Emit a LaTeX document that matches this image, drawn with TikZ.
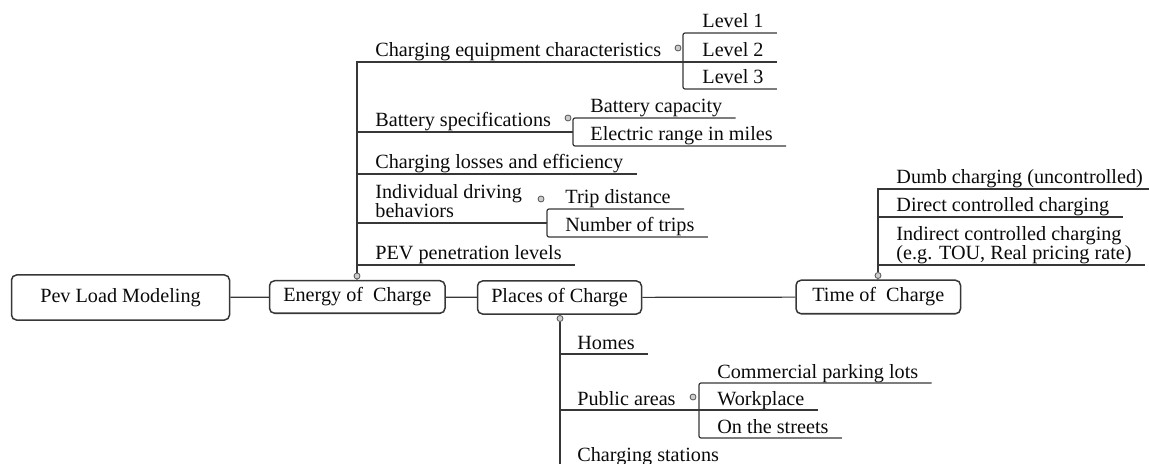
\documentclass[tikz,border=0pt]{standalone}
\usepackage{fontspec}
\setmainfont{Liberation Serif}
\usepackage{xcolor}
\definecolor{InkBlack}{RGB}{10,10,10}
\definecolor{LineGray}{RGB}{55,55,55}
\definecolor{KnobGray}{RGB}{205,205,205}
\usepackage{tikz}

\begin{document}
\begin{tikzpicture}[
    x=0.5pt, y=-0.5pt,
    font=\fontsize{10.1}{9.6}\selectfont, text=InkBlack,
    mainbox/.style={
        draw=LineGray, line width=0.75pt, rounded corners=2.5pt,
        inner sep=0pt, align=center
    },
    topic/.style={
        anchor=south west, inner sep=0pt, align=left,
        execute at end node={\rule[-2.3pt]{0pt}{1pt}}
    },
    link/.style={
        draw=LineGray, line width=0.6pt
    },
    bracket/.style={
        link, rounded corners=1pt
    },
    knob/.style={
        circle, draw=LineGray!85, fill=KnobGray, line width=0.4pt,
        inner sep=0pt, minimum size=3pt
    }
]
\useasboundingbox (0,0) rectangle (1149,464);
\clip (0,0) rectangle (1149,464);

% ====== BLOCS PRINCIPAUX ======
\node[mainbox, minimum width=109pt, minimum height=22.5pt]   (pev)    at (120.5,297.5) {Pev Load Modeling};
\node[mainbox, minimum width=87.75pt, minimum height=16.25pt] (energy) at (357.25,297)  {Energy of~~Charge};
\node[mainbox, minimum width=82pt, minimum height=16.5pt]     (places) at (559.5,297.5) {Places of Charge};
\node[mainbox, minimum width=82.25pt, minimum height=16.75pt] (time)   at (878.25,297)  {Time of~~Charge};

\draw[link] (pev) -- (energy);
\draw[link] (energy) -- (places);
\draw[link] (places) -- (time);

% ====== POIGNEES ======
\node[knob] (eDot)   at (357,276)   {};
\node[knob] (pDot)   at (560,318.5) {};
\node[knob] (tDot)   at (878,275.5) {};
\node[knob] (eqpDot) at (678,48)    {};
\node[knob] (batDot) at (568,118)   {};
\node[knob] (drvDot) at (541,199)   {};
\node[knob] (pubDot) at (693,397)   {};

% ====== ENERGY OF CHARGE ======
\node[topic] (eqp)  at (375,62)  {Charging equipment characteristics};
\node[topic] (lvA)  at (702,33)  {Level 1};
\node[topic] (lvB)  at (702,62)  {Level 2};
\node[topic] (lvC)  at (702,89)  {Level 3};
\node[topic] (bat)  at (375,132) {Battery specifications};
\node[topic] (capA) at (590,118) {Battery capacity};
\node[topic] (capB) at (590,146) {Electric range in miles};
\node[topic] (loss) at (375,174) {Charging losses and efficiency};
\node[topic] (drv)  at (375,223) {Individual driving\\behaviors};
\node[topic] (trpA) at (565,209) {Trip distance};
\node[topic] (trpB) at (565,237) {Number of trips};
\node[topic] (pen)  at (375,265) {PEV penetration levels};

\coordinate (eqpK) at (683,62);
\coordinate (batK) at (573,132);
\coordinate (drvK) at (547,223);

\draw[link] (eDot) -- (energy);
\draw[link] (eDot) |- (eqpK) -- ([xshift=6.5pt]lvB.south east);
\draw[bracket] ([xshift=6.5pt]lvA.south east) -- (eqpK |- lvA.south) -- (eqpK |- lvC.south) -- ([xshift=6.5pt]lvC.south east);
\draw[link] (eDot |- bat.south) -- (batK);
\draw[bracket] ([xshift=6.5pt]capA.south east) -- (batK |- capA.south) -- (batK |- capB.south) -- ([xshift=6.5pt]capB.south east);
\draw[link] (eDot |- loss.south) -- ([xshift=6.5pt]loss.south east);
\draw[link] (eDot |- drv.south) -- (drvK);
\draw[bracket] ([xshift=6.5pt]trpA.south east) -- (drvK |- trpA.south) -- (drvK |- trpB.south) -- ([xshift=6.5pt]trpB.south east);
\draw[link] (eDot |- pen.south) -- ([xshift=6.5pt]pen.south east);

% ====== PLACES OF CHARGE ======
\node[topic] (home)  at (577,354) {Homes};
\node[topic] (pub)   at (577,410) {Public areas};
\node[topic] (parkA) at (717,383) {Commercial parking lots};
\node[topic] (parkB) at (717,410) {Workplace};
\node[topic] (parkC) at (717,438) {On the streets};
\node[topic] (stat)  at (577,466) {Charging stations};

\coordinate (pubK) at (699,410);
\coordinate (pEnd) at (560,470);

\draw[link] (pDot) -- (places);
\draw[link] (pDot) -- (pEnd);
\draw[link] (pDot |- home.south) -- ([xshift=6.5pt]home.south east);
\draw[link] (pDot |- pub.south) -- (pubK) -- ([xshift=6.5pt]parkB.south east);
\draw[bracket] ([xshift=6.5pt]parkA.south east) -- (pubK |- parkA.south) -- (pubK |- parkC.south) -- ([xshift=6.5pt]parkC.south east);
\draw[link] (pDot |- stat.south) -- ([xshift=6.5pt]stat.south east);

% ====== TIME OF CHARGE ======
\node[topic] (dumb) at (896,189) {Dumb charging (uncontrolled)};
\node[topic] (dirc) at (896,217) {Direct controlled charging};
\node[topic] (indc) at (896,265) {Indirect controlled charging\\(e.g. TOU, Real pricing rate)};

\draw[link] (tDot) -- (time);
\draw[link] (tDot) |- ([xshift=6.5pt]dumb.south east);
\draw[link] (tDot |- dirc.south) -- ([xshift=6.5pt]dirc.south east);
\draw[link] (tDot |- indc.south) -- ([xshift=6.5pt]indc.south east);

\end{tikzpicture}
\end{document}
